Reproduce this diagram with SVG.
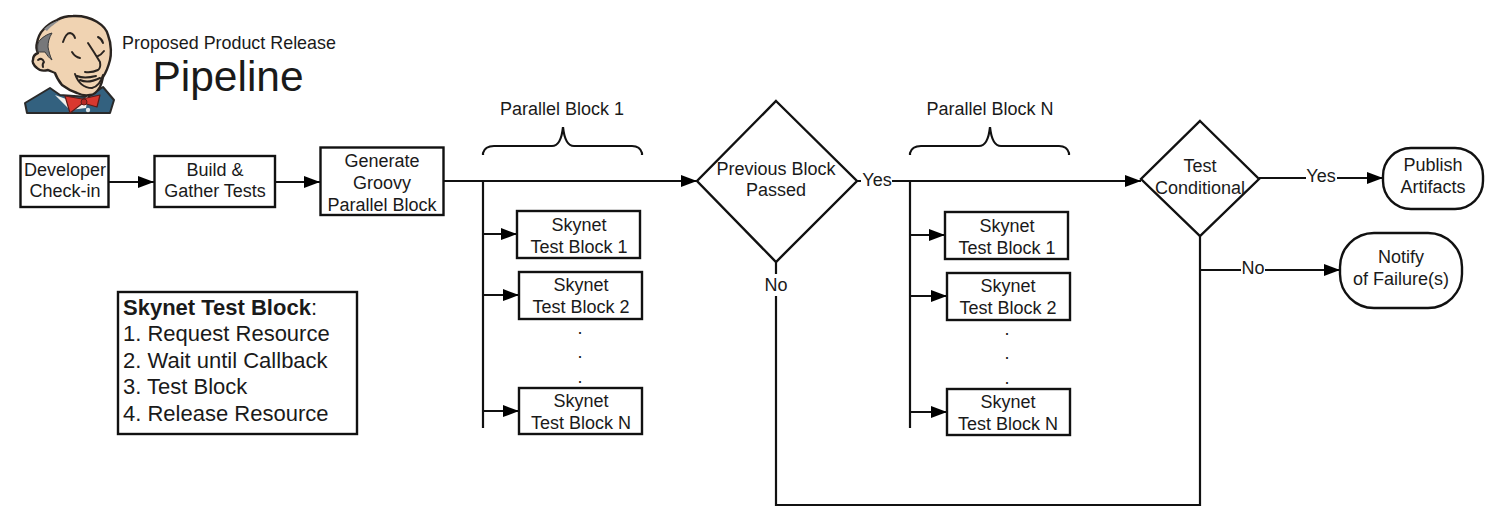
<svg xmlns="http://www.w3.org/2000/svg" width="1500" height="524" viewBox="0 0 1500 524">
<style>
text{font-family:"Liberation Sans",Arial,sans-serif;fill:#1a1a1a;font-size:18px;text-anchor:middle}
.n{fill:#fff;stroke:#111;stroke-width:2.4}
.c{fill:none;stroke:#111;stroke-width:2.2}
.a{marker-end:url(#ah)}
.lb{fill:#fff;stroke:none}
.l{text-anchor:start;font-size:22px}
.ink{fill:none;stroke:#2a2420;stroke-width:2;stroke-linecap:round;stroke-linejoin:round}
</style>
<defs><marker id="ah" markerUnits="userSpaceOnUse" markerWidth="17" markerHeight="14" refX="16" refY="7" orient="auto"><path d="M0 1L16 7L0 13Z" fill="#000"/></marker></defs>
<rect width="1500" height="524" fill="#fff"/>
<g id="logo">
<path d="M25 103L27 113H110L114 100L103 87L88 97L60 95L50 88Z" fill="#33617f" stroke="#2a2a2a" stroke-width="2" stroke-linejoin="round"/>
<path d="M55 95L66 99L84 99L88 96L86 108L70 110Z" fill="#f4f1ec"/>
<path d="M73 16C92 15 106 26 108 35C112 45 111 56 110 60C108 68 105 74 103 77C102 82 101 85 100 87C97 92 93 95 90 95C85 96 81 95 77 93C71 91 66 88 62 85C58 80 56 76 55 73C53 72 50 71 48 70C44 71 40 71 37 68C33 65 32 61 33 60C33 56 35 54 38 53C36 49 36 46 37 43C38 37 40 33 43 30C47 25 52 22 57 20C62 17 68 16 73 16Z" fill="#f0d3b2" stroke="#2a2420" stroke-width="2.4" stroke-linejoin="round"/>
<path d="M38 52C37 46 38 42 40 40C44 36 48 34 52 33C49 38 48 42 48 47C49 52 50 56 52 60C49 58 47 55 45 52C42 52 40 52 38 52Z" fill="#77787a" stroke="#3a3a3a"/>
<path d="M44 29C48 25 53 22 60 20C56 23 50 27 47 31Z" fill="#8d8e90"/>
<path class="ink" d="M38 60Q42 57 44 62Q42 64 43 67M63 42Q66 33 70 33Q74 34 75 38M98 37Q102 39 103 43M72 52Q75 57 80 58M98 56Q101 55 104 51M88 43Q94 52 100 62Q101 68 98 70Q92 73 85 72M77 76Q84 79 96 76M80 80Q88 84 100 78M75 74Q80 88 92 88Q100 86 103 75"/>
<path d="M65 96L82 99L100 95L97 107L83 103L70 113Z" fill="#d9382f" stroke="#5c1c18" stroke-width="1.2" stroke-linejoin="round"/>
<circle cx="84" cy="102" r="3" fill="#b52a24" stroke="#5c1c18"/>
<circle cx="88" cy="110" r="2.2" fill="#dfe7ea"/>
</g>
<g id="title"><text x="229" y="49" style="font-size:17.9px">Proposed Product Release</text><text x="228" y="91" style="font-size:42.5px">Pipeline</text></g>
<g id="connectors">
<path class="c a" d="M109 182H154"/><path class="c a" d="M275 182H320"/><path class="c a" d="M444 181H697"/>
<path class="c" d="M483 181V428"/><path class="c a" d="M483 234H517"/><path class="c a" d="M483 295H519"/><path class="c a" d="M483 411H519"/>
<path class="c a" d="M857 181H1141"/><path class="c" d="M910 182V428"/><path class="c a" d="M910 235H945"/><path class="c a" d="M910 296H947"/><path class="c a" d="M910 412H947"/>
<path class="c a" d="M1259 178H1383"/><path class="c" d="M1200 236V505H776V262"/><path class="c a" d="M1200 270H1340"/>
<path class="c" d="M483 155V153Q485 146 494 146H552Q561 146 563 127Q565 146 574 146H632Q640 146 642 153V155"/>
<path class="c" d="M910 155V153Q912 146 921 146H979Q988 146 990 127Q992 146 1001 146H1059Q1067 146 1069 153V155"/>
</g>
<g id="n1"><rect class="n" x="20.5" y="156" width="88" height="51"/><text x="65" y="176">Developer</text><text x="65" y="197">Check-in</text></g>
<g id="n2"><rect class="n" x="154.500" y="156" width="120.500" height="51"/><text x="215" y="175.500">Build &amp;</text><text x="215" y="197">Gather Tests</text></g>
<g id="n3"><rect class="n" x="320.500" y="147.500" width="123" height="67.500"/><text x="382" y="167">Generate</text><text x="382" y="189">Groovy</text><text x="382" y="210.500">Parallel Block</text></g>
<g id="legend"><rect class="n" x="118" y="292" width="239" height="142"/><text class="l" x="123" y="315"><tspan font-weight="bold">Skynet Test Block</tspan>:</text><text class="l" x="123" y="341">1. Request Resource</text><text class="l" x="123" y="368">2. Wait until Callback</text><text class="l" x="123" y="394">3. Test Block</text><text class="l" x="123" y="421">4. Release Resource</text></g>
<g id="pb1"><text x="562" y="115">Parallel Block 1</text></g>
<g id="a1"><rect class="n" x="517" y="211" width="123" height="47"/><text x="579" y="231">Skynet</text><text x="579" y="253">Test Block 1</text></g>
<g id="a2"><rect class="n" x="519" y="272" width="123" height="47"/><text x="581" y="291">Skynet</text><text x="581" y="313">Test Block 2</text></g>
<g id="a3"><text x="580" y="334">.</text><text x="580" y="358">.</text><text x="580" y="383">.</text></g>
<g id="a4"><rect class="n" x="519" y="388" width="123" height="46"/><text x="581" y="407">Skynet</text><text x="581" y="429">Test Block N</text></g>
<g id="d1"><polygon class="n" points="776,101 857,181 776,262 697,181"/><text x="776" y="175">Previous Block</text><text x="776" y="196">Passed</text></g>
<g id="yes1"><rect class="lb" x="861" y="170" width="31" height="20"/><text x="877" y="186">Yes</text></g>
<g id="no1"><rect class="lb" x="764" y="274" width="26" height="22"/><text x="776" y="291">No</text></g>
<g id="pbn"><text x="990" y="115">Parallel Block N</text></g>
<g id="b1"><rect class="n" x="945" y="212" width="123" height="47"/><text x="1007" y="232">Skynet</text><text x="1007" y="254">Test Block 1</text></g>
<g id="b2"><rect class="n" x="947" y="273" width="123" height="47"/><text x="1008" y="292">Skynet</text><text x="1008" y="314">Test Block 2</text></g>
<g id="b3"><text x="1007" y="335">.</text><text x="1007" y="359">.</text><text x="1007" y="384">.</text></g>
<g id="b4"><rect class="n" x="947" y="389" width="123" height="46"/><text x="1008" y="408">Skynet</text><text x="1008" y="430">Test Block N</text></g>
<g id="d2"><polygon class="n" points="1200,121 1259,179 1200,236 1141,179"/><text x="1200" y="172">Test</text><text x="1200" y="194">Conditional</text></g>
<g id="yes2"><rect class="lb" x="1306" y="167" width="31" height="20"/><text x="1321" y="182">Yes</text></g>
<g id="no2"><rect class="lb" x="1241" y="259" width="24" height="20"/><text x="1253" y="274">No</text></g>
<g id="pub"><rect class="n" x="1383" y="148" width="100" height="61" rx="28"/><text x="1433" y="171">Publish</text><text x="1433" y="193">Artifacts</text></g>
<g id="fail"><rect class="n" x="1340" y="233" width="122" height="75" rx="34"/><text x="1401" y="263">Notify</text><text x="1401" y="285">of Failure(s)</text></g>
</svg>
